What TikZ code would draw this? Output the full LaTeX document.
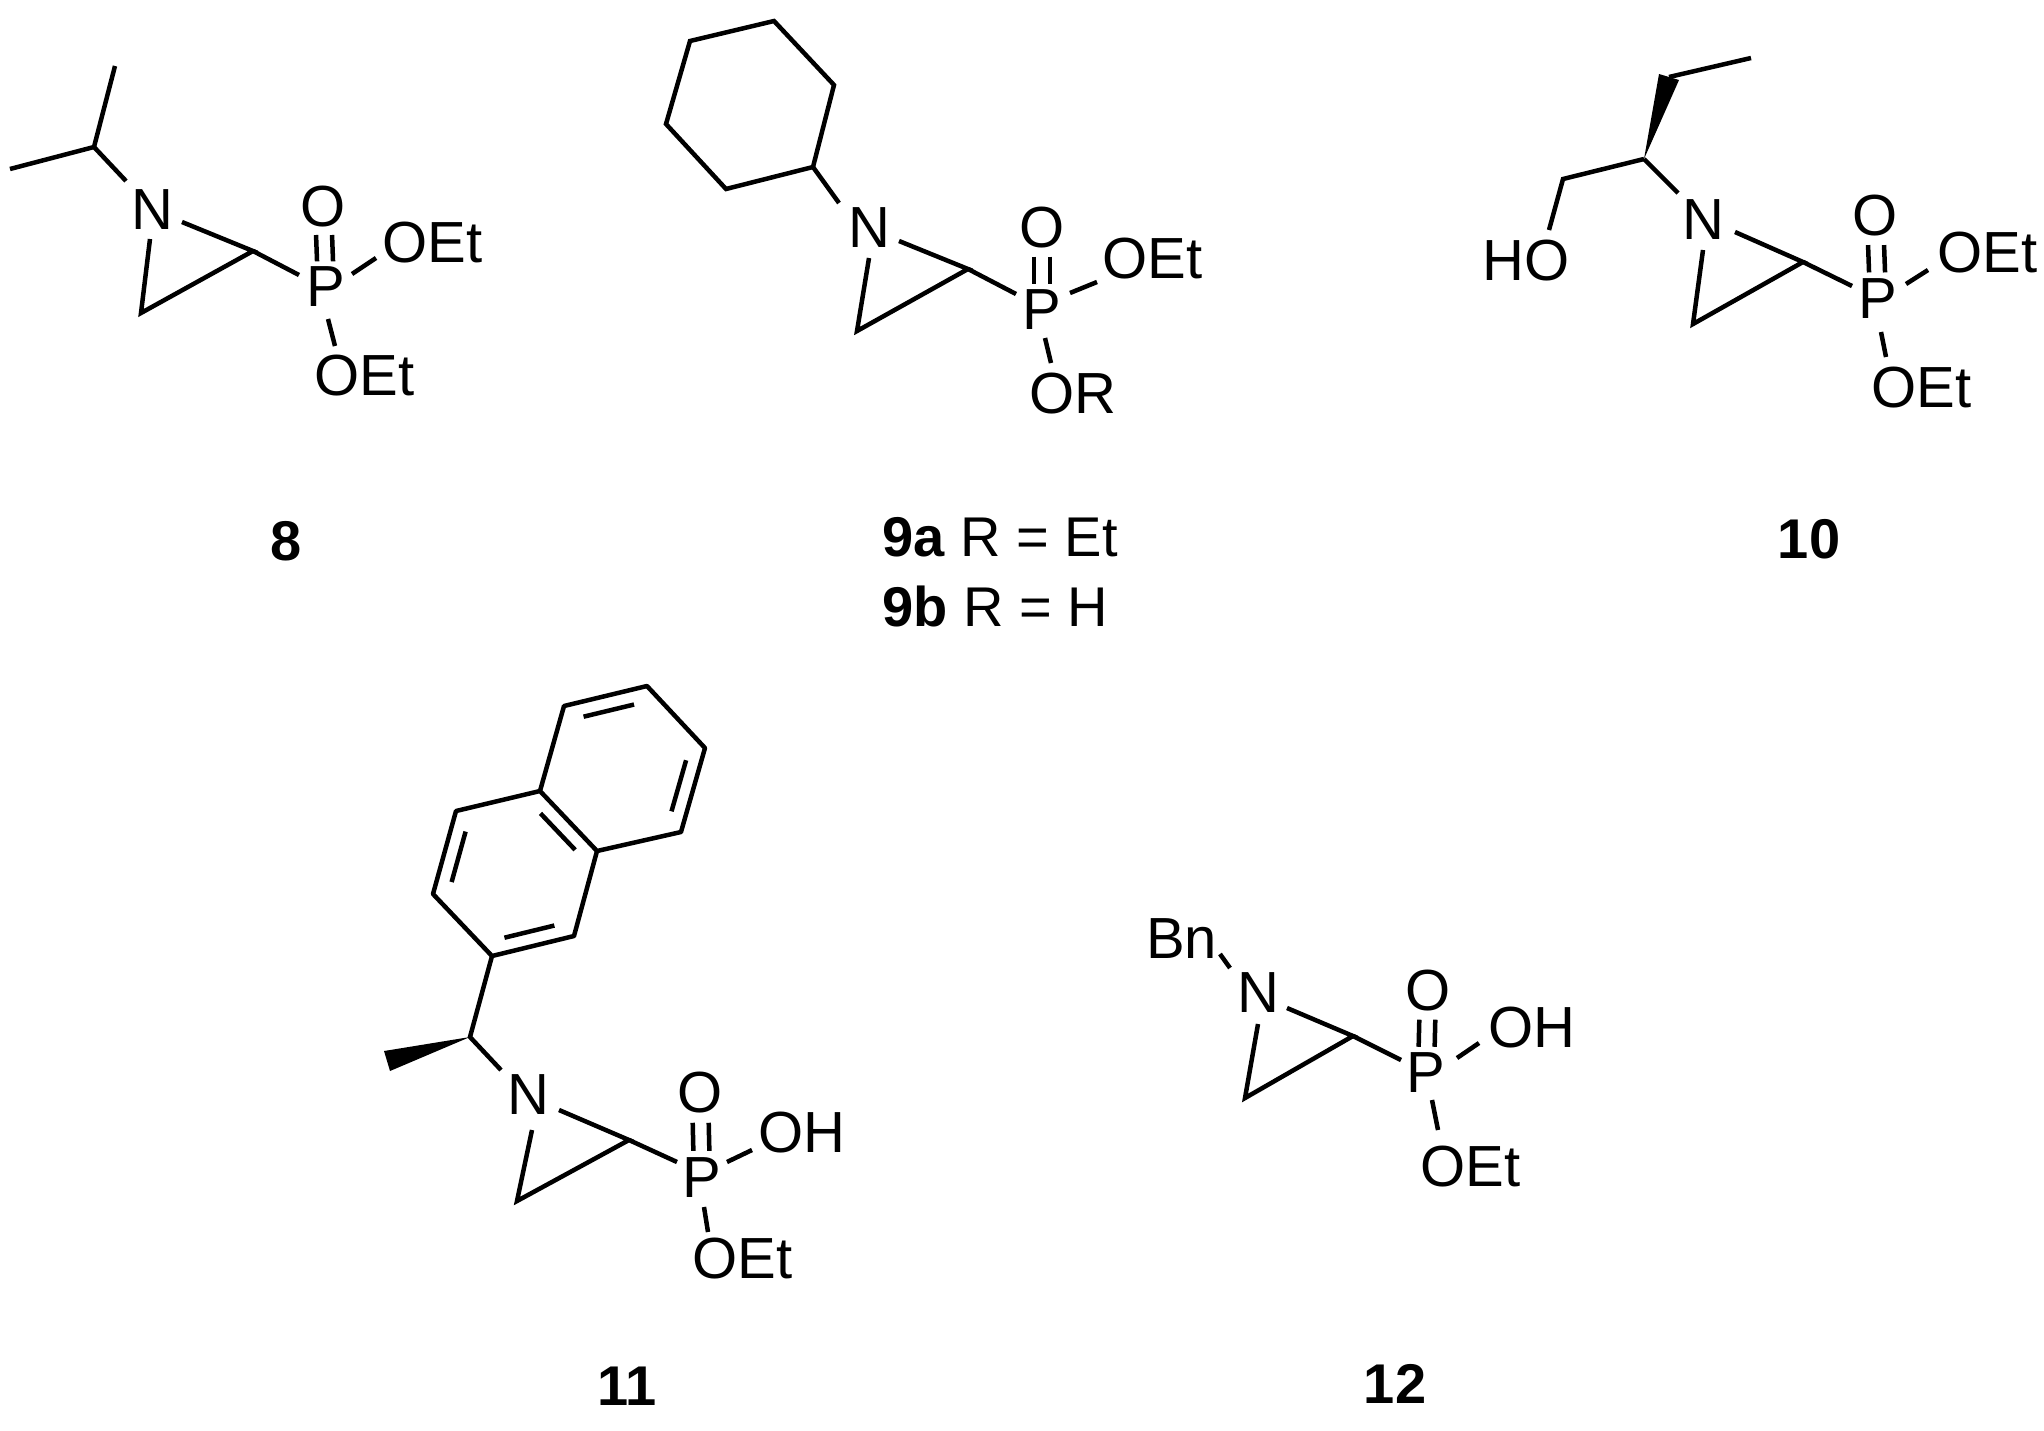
\documentclass[tikz,border=0pt]{standalone}
\usepackage{fontspec}
\setmainfont{Liberation Sans}
\usetikzlibrary{calc}
\begin{document}
\begin{tikzpicture}[x=1pt,y=-1pt,line width=4.5pt,
  atom/.style={inner sep=0pt,font=\fontsize{58}{60}\selectfont},
  lbl/.style={inner sep=0pt,font=\fontsize{56}{60}\selectfont\bfseries},
  bond/.style={line width=4.5pt}]
\useasboundingbox (0,0) rectangle (2044,1430);
\newcommand{\pdbl}[2]{%
  \draw[bond] ([xshift=-8pt]$(#1)!0.35!(#2)$) -- ([xshift=-8pt]$(#1)!0.68!(#2)$);
  \draw[bond] ([xshift=8pt]$(#1)!0.35!(#2)$) -- ([xshift=8pt]$(#1)!0.68!(#2)$);}
% ---------- 8 ----------
\coordinate (a1) at (94,147); \coordinate (a2) at (10,169); \coordinate (a3) at (115,66);
\coordinate (a4) at (126,181);
\node[atom] (aN) at (152,210) {N};
\coordinate (aNr) at (182,222); \coordinate (aNb) at (150,239);
\coordinate (aC2) at (253,251); \coordinate (aC3) at (141,313);
\coordinate (aPb) at (299,275);
\node[atom] (aP) at (326,287) {P};
\node[atom] (aO) at (323,207) {O};
\node[atom,anchor=west] (aOr) at (380,243) {OEt};
\node[atom,anchor=west] (aOb) at (312,376) {OEt};
\draw[bond] (a2)--(a1)--(a3); \draw[bond] (a1)--(a4);
\draw[bond] (aNr)--(aC2)--(aC3)--(aNb); \draw[bond] (aC2)--(aPb);
\pdbl{aO}{aP}
\draw[bond] (352,274)--(376,258); \draw[bond] (328,319)--(335,346);
\node[lbl] (l8) at (286,541) {8};
% ---------- 9 ----------
\draw[bond] (774,21)--(690,41)--(666,124)--(726,189)--(813,167)--(834,85)--cycle;
\coordinate (b1) at (813,167); \coordinate (b2) at (839,203);
\node[atom] (bN) at (869,228) {N};
\coordinate (bNr) at (899,241); \coordinate (bNb) at (869,258);
\coordinate (bC2) at (968,269); \coordinate (bC3) at (857,331);
\coordinate (bPb) at (1016,294);
\node[atom] (bP) at (1042,310) {P};
\node[atom] (bO) at (1042,228) {O};
\node[atom,anchor=west] (bOr) at (1100,259) {OEt};
\node[atom,anchor=west] (bOb) at (1027,394) {OR};
\draw[bond] (b1)--(b2);
\draw[bond] (bNr)--(bC2)--(bC3)--(bNb); \draw[bond] (bC2)--(bPb);
\pdbl{bO}{bP}
\draw[bond] (1070,293)--(1097,282); \draw[bond] (1045,338)--(1051,363);
\node[inner sep=0pt,anchor=west,font=\fontsize{56}{60}\selectfont] (l9a) at (880,537) {\textbf{9a} R = Et};
\node[inner sep=0pt,anchor=west,font=\fontsize{56}{60}\selectfont] (l9b) at (880,606) {\textbf{9b} R = H};
% ---------- 10 ----------
\coordinate (c1) at (1751,58); \coordinate (c2) at (1669,77); \coordinate (c3) at (1644,159);
\coordinate (c4) at (1563,179); \coordinate (c5) at (1549,230); \coordinate (c6) at (1678,193);
\fill (c3) -- (1679,80) -- (1659,74) -- cycle;
\draw[bond] (c2)--(c1);
\draw[bond] (c3)--(c4)--(c5); \draw[bond] (c3)--(c6);
\node[atom,anchor=west] (cHO) at (1480,261) {HO};
\node[atom] (cN) at (1703,220) {N};
\coordinate (cNr) at (1735,232); \coordinate (cNb) at (1703,250);
\coordinate (cC2) at (1803,262); \coordinate (cC3) at (1693,324);
\coordinate (cPb) at (1852,286);
\node[atom] (cP) at (1878,299) {P};
\node[atom] (cO) at (1875,216) {O};
\node[atom,anchor=west] (cOr) at (1935,253) {OEt};
\node[atom,anchor=west] (cOb) at (1869,388) {OEt};
\draw[bond] (cNr)--(cC2)--(cC3)--(cNb); \draw[bond] (cC2)--(cPb);
\pdbl{cO}{cP}
\draw[bond] (1906,284)--(1928,270); \draw[bond] (1881,332)--(1886,357);
\node[lbl] (l10) at (1809,539) {10};
% ---------- 11 ----------
\coordinate (na) at (647,686); \coordinate (nb) at (564,706); \coordinate (nc) at (540,791);
\coordinate (nd) at (456,811); \coordinate (ne) at (433,894); \coordinate (nf) at (492,956);
\coordinate (ng) at (574,936); \coordinate (nh) at (597,851); \coordinate (ni) at (681,832);
\coordinate (nj) at (705,748);
\coordinate (rc) at (622,769); \coordinate (lc) at (515,874);
\draw[bond,line join=round] (na)--(nb)--(nc)--(nh)--(ni)--(nj)--cycle;
\draw[bond,line join=round] (nc)--(nd)--(ne)--(nf)--(ng)--(nh);
\draw[bond] ($(na)!0.12!(nb)!0.2!(rc)$) -- ($(nb)!0.12!(na)!0.2!(rc)$);
\draw[bond] ($(ni)!0.12!(nj)!0.2!(rc)$) -- ($(nj)!0.12!(ni)!0.2!(rc)$);
\draw[bond] ($(nc)!0.12!(nh)!0.2!(lc)$) -- ($(nh)!0.12!(nc)!0.2!(lc)$);
\draw[bond] ($(nd)!0.12!(ne)!0.2!(lc)$) -- ($(ne)!0.12!(nd)!0.2!(lc)$);
\draw[bond] ($(nf)!0.12!(ng)!0.2!(lc)$) -- ($(ng)!0.12!(nf)!0.2!(lc)$);
\coordinate (d1) at (470,1037); \coordinate (d2) at (501,1070);
\draw[bond] (nf)--(d1)--(d2);
\fill (d1) -- (390,1071) -- (384,1051) -- cycle;
\node[atom] (dN) at (528,1095) {N};
\coordinate (dNr) at (559,1110); \coordinate (dNb) at (532,1130);
\coordinate (dC2) at (629,1140); \coordinate (dC3) at (517,1201);
\coordinate (dPb) at (677,1162);
\node[atom] (dP) at (702,1178) {P};
\node[atom] (dO) at (700,1093) {O};
\node[atom,anchor=west] (dOr) at (756,1133) {OH};
\node[atom,anchor=west] (dOb) at (690,1259) {OEt};
\draw[bond] (dNr)--(dC2)--(dC3)--(dNb); \draw[bond] (dC2)--(dPb);
\pdbl{dO}{dP}
\draw[bond] (727,1162)--(752,1150); \draw[bond] (704,1207)--(708,1232);
\node[lbl] (l11) at (627,1386) {11};
% ---------- 12 ----------
\node[atom,anchor=west] (eBn) at (1144,939) {Bn};
\draw[bond] (1220,954)--(1230,968);
\node[atom] (eN) at (1258,993) {N};
\coordinate (eNr) at (1287,1008); \coordinate (eNb) at (1258,1024);
\coordinate (eC2) at (1353,1036); \coordinate (eC3) at (1245,1098);
\coordinate (ePb) at (1401,1060);
\node[atom] (eP) at (1426,1073) {P};
\node[atom] (eO) at (1428,991) {O};
\node[atom,anchor=west] (eOr) at (1486,1028) {OH};
\node[atom,anchor=west] (eOb) at (1418,1167) {OEt};
\draw[bond] (eNr)--(eC2)--(eC3)--(eNb); \draw[bond] (eC2)--(ePb);
\pdbl{eO}{eP}
\draw[bond] (1457,1058)--(1479,1043); \draw[bond] (1432,1100)--(1438,1130);
\node[lbl] (l12) at (1395,1384) {12};
\end{tikzpicture}
\end{document}
